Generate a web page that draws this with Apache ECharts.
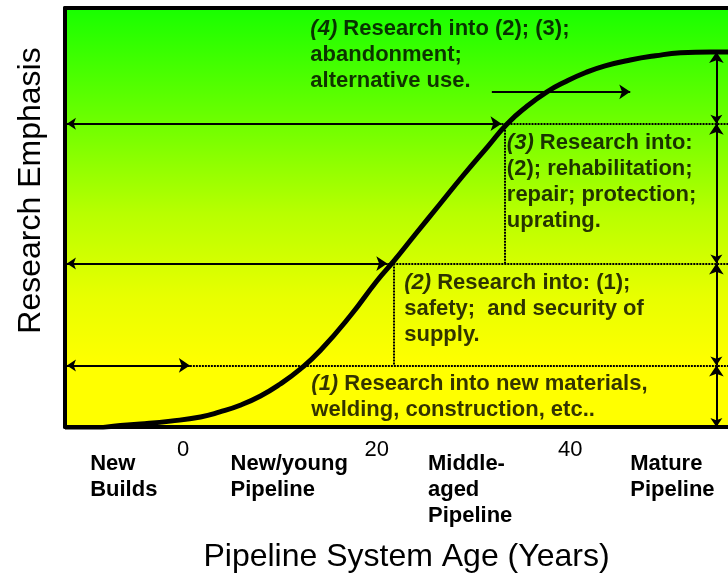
<!DOCTYPE html>
<html>
<head>
<meta charset="utf-8">
<script src="https://cdn.jsdelivr.net/npm/echarts@6/dist/echarts.min.js"></script>
<style>
  html, body { margin: 0; padding: 0; background: #fff; }
  #main { width: 728px; height: 578px; }
</style>
</head>
<body>
<div id="main"></div>
<script>
// curve (age in years, emphasis 0-100)
var curveX = [-12.2, -10.1, -7.2, -4.4, -1.3, 1.8, 3.8, 5.9, 8.0, 10.0, 12.1, 14.2, 17.3, 20.0, 21.7, 24.0, 26.5, 29.0, 31.5, 33.5, 35.5, 37.6, 39.5, 41.6, 43.6, 46.2, 48.8, 51.4, 54.5, 56.3];
var curveY = [-0.5, -0.5, 0.2, 0.7, 1.4, 2.4, 3.6, 5.2, 7.4, 10.2, 13.8, 18.3, 26.6, 34.8, 39.4, 46.0, 53.1, 60.2, 67.0, 72.4, 76.5, 80.0, 82.4, 84.6, 86.2, 87.6, 88.6, 89.3, 89.5, 89.5];

// stage levels and where each arrow meets the curve
var levelY = [14.7, 39.0, 72.4];
var arrowTipX = [0.7, 21.1, 32.9];
var dividerX = [21.8, 33.2];
var plateauY = 89.5;
var rightArrowX = 55.1;
var xMin = -12.2, xMax = 56.3;
var leftStart = -12.0;

var futureArrow = [[31.9, 80.0], [46.2, 80.0]];

var tickValues = [0, 20, 40];
var stageX = [-9.6, 4.9, 25.3, 46.2];
var stageLabels = ['New\nBuilds', 'New/young\nPipeline', 'Middle-\naged\nPipeline', 'Mature\nPipeline'];

var noteX = [13.3, 22.9, 33.5, 13.2];
var noteY = [13.3, 37.3, 70.8, 97.9];
var noteTag = ['(1)', '(2)', '(3)', '(4)'];
var noteText = [
  ' Research into new materials,\nwelding, construction, etc..',
  ' Research into: (1);\nsafety;  and security of\nsupply.',
  ' Research into:\n(2); rehabilitation;\nrepair; protection;\nuprating.',
  ' Research into (2); (3);\nabandonment;\nalternative use.'
];

var font = '"Liberation Sans", Arial, sans-serif';

var chart = echarts.init(document.getElementById('main'));

var curveData = curveX.map(function (x, i) { return [x, curveY[i]]; });

var solidLines = [], dottedLines = [], rightArrows = [];
levelY.forEach(function (y, i) {
  solidLines.push({ coords: [[leftStart, y], [arrowTipX[i], y]] });
  dottedLines.push({ coords: [[arrowTipX[i], y], [xMax, y]] });
});
// vertical dividers between the text boxes
dottedLines.push({ coords: [[dividerX[0], levelY[1]], [dividerX[0], levelY[0]]] });
dottedLines.push({ coords: [[dividerX[1], levelY[2]], [dividerX[1], levelY[1]]] });

var stops = [0].concat(levelY, [plateauY]);
for (var i = 0; i < stops.length - 1; i++) {
  rightArrows.push({ coords: [[rightArrowX, stops[i]], [rightArrowX, stops[i + 1]]] });
}

var notes = noteX.map(function (x, i) {
  return {
    value: [x, noteY[i]],
    label: { formatter: '{i|' + noteTag[i] + '}' + noteText[i] }
  };
});

var option = {
  animation: false,
  grid: {
    left: 65, right: 0, top: 8, bottom: 149,
    show: true, borderWidth: 0,
    backgroundColor: {
      type: 'linear', x: 0, y: 0, x2: 0, y2: 1,
      colorStops: [
        { offset: 0, color: '#18ff00' },
        { offset: 0.1, color: '#38ff00' },
        { offset: 0.28, color: '#70ff00' },
        { offset: 0.49, color: '#b8ff00' },
        { offset: 0.69, color: '#e8ff00' },
        { offset: 0.85, color: '#ffff00' },
        { offset: 1, color: '#ffff00' }
      ]
    }
  },
  xAxis: [
    {
      type: 'value', min: xMin, max: xMax, position: 'bottom',
      splitLine: { show: false },
      axisTick: { show: false },
      axisLine: { onZero: false, lineStyle: { color: '#000', width: 4 } },
      axisLabel: {
        customValues: tickValues, margin: 12,
        color: '#000', fontSize: 22, fontFamily: font
      },
      name: 'Pipeline System Age (Years)',
      nameLocation: 'middle', nameGap: 114,
      nameTextStyle: { fontSize: 32, color: '#000', fontFamily: font, padding: [0, 0, 0, 20] }
    },
    {
      type: 'value', min: xMin, max: xMax, position: 'bottom',
      splitLine: { show: false },
      axisTick: { show: false },
      axisLine: { show: false, onZero: false },
      axisLabel: {
        customValues: stageX, margin: 24,
        align: 'left', verticalAlign: 'top',
        color: '#000', fontSize: 22, fontWeight: 'bold', lineHeight: 26, fontFamily: font,
        formatter: function (v) {
          var k = stageX.indexOf(v);
          return k >= 0 ? stageLabels[k] : '';
        }
      }
    },
    {
      type: 'value', min: xMin, max: xMax, position: 'top',
      splitLine: { show: false },
      axisTick: { show: false },
      axisLabel: { show: false },
      axisLine: { onZero: false, lineStyle: { color: '#000', width: 4 } }
    }
  ],
  yAxis: {
    type: 'value', min: 0, max: 100,
    splitLine: { show: false },
    axisTick: { show: false },
    axisLabel: { show: false },
    axisLine: { show: true, onZero: false, lineStyle: { color: '#000', width: 4 } },
    name: 'Research Emphasis',
    nameLocation: 'middle', nameGap: 18,
    nameTextStyle: { fontSize: 32, color: '#000', fontFamily: font, padding: [0, 0, 0, 54] }
  },
  series: [
    {
      type: 'lines', coordinateSystem: 'cartesian2d',
      symbol: ['none', 'none'],
      lineStyle: { color: '#000', width: 2, type: [2, 1], opacity: 1 },
      data: dottedLines, z: 3
    },
    {
      type: 'lines', coordinateSystem: 'cartesian2d',
      symbol: ['arrow', 'arrow'], symbolSize: [9, 11],
      lineStyle: { color: '#000', width: 2, opacity: 1 },
      data: solidLines.concat(rightArrows), z: 3
    },
    {
      type: 'lines', coordinateSystem: 'cartesian2d',
      symbol: ['none', 'arrow'], symbolSize: [9, 11],
      lineStyle: { color: '#000', width: 2, opacity: 1 },
      data: [{ coords: futureArrow }], z: 3
    },
    {
      type: 'line', data: curveData, smooth: 0.5,
      showSymbol: false, symbol: 'none',
      lineStyle: { color: '#000', width: 5 }, z: 4
    },
    {
      type: 'scatter', data: notes, symbolSize: 1,
      itemStyle: { color: 'rgba(0,0,0,0)' },
      label: {
        show: true, position: [0, 0], align: 'left', verticalAlign: 'top',
        color: '#000', fontSize: 22, fontWeight: 'bold', lineHeight: 26, fontFamily: font,
        rich: {
          i: { fontStyle: 'italic', fontWeight: 'bold', fontSize: 22, lineHeight: 26, color: '#000', fontFamily: font }
        }
      },
      z: 5
    }
  ]
};

chart.setOption(option);
</script>
</body>
</html>
